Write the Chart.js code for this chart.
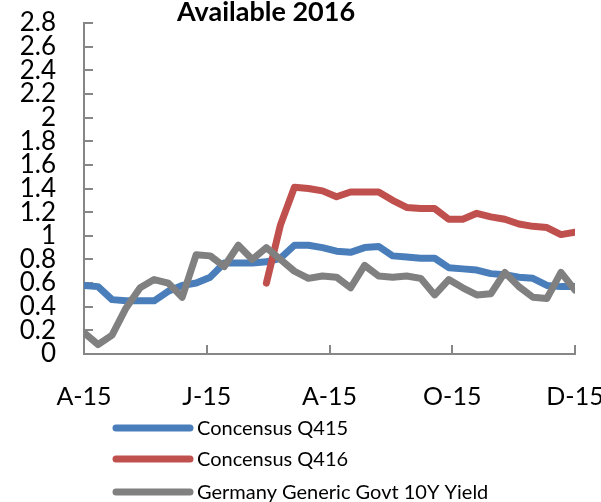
<!DOCTYPE html>
<html>
<head>
<meta charset="utf-8">
<script src="https://cdn.jsdelivr.net/npm/chart.js@4/dist/chart.umd.min.js"></script>
<style>
  body { margin: 0; background: #fff; }
</style>
</head>
<body>
<canvas id="yields" width="601" height="502"></canvas>
<script>
// weekly observations, April 2015 -> December 2015
const consensusQ415 = [0.58,0.57,0.46,0.45,0.45,0.45,0.53,0.58,0.60,0.65,0.77,0.77,0.77,0.78,0.81,0.92,0.92,0.90,
                       0.87,0.86,0.90,0.91,0.83,0.82,0.81,0.81,0.73,0.72,0.71,0.68,0.67,0.65,0.64,0.58,0.57,0.57];
const consensusQ416 = [null,null,null,null,null,null,null,null,null,null,null,null,null,0.60,1.09,1.41,1.40,1.38,
                       1.33,1.37,1.37,1.37,1.30,1.24,1.23,1.23,1.14,1.14,1.19,1.16,1.14,1.10,1.08,1.07,1.01,1.03];
const germany10y    = [0.18,0.08,0.16,0.39,0.56,0.63,0.60,0.48,0.84,0.83,0.74,0.92,0.80,0.90,0.80,0.70,0.64,0.66,
                       0.65,0.56,0.75,0.66,0.65,0.66,0.64,0.50,0.63,0.56,0.50,0.51,0.69,0.57,0.48,0.47,0.69,0.54];

const tickLabels = ["A-15", "J-15", "A-15", "O-15", "D-15"];
const tickWeeks = [0, 8.75, 17.5, 26.25, 35];   // where the month ticks fall, in weeks
const titleText = "Available 2016";

const axisGray = "#868686";

// title + stacked legend underneath the axis
const extras = {
  id: "extras",
  afterDraw(chart) {
    const ctx = chart.ctx;
    ctx.save();
    ctx.fillStyle = "#000";
    ctx.font = "bold 27px Lato";
    ctx.textAlign = "center";
    ctx.textBaseline = "alphabetic";
    ctx.fillText(titleText, 266, 21);

    const rows = [428, 459, 492];
    ctx.font = "20px Lato";
    ctx.textAlign = "left";
    ctx.textBaseline = "middle";
    chart.data.datasets.forEach((ds, i) => {
      ctx.strokeStyle = ds.borderColor;
      ctx.lineWidth = 7;
      ctx.lineCap = "round";
      ctx.beginPath();
      ctx.moveTo(116, rows[i]);
      ctx.lineTo(190, rows[i]);
      ctx.stroke();
      ctx.fillStyle = "#000";
      ctx.fillText(ds.label, 197, rows[i] + 1);
    });
    ctx.restore();
  }
};

new Chart(document.getElementById("yields"), {
  type: "line",
  data: {
    labels: germany10y.map((v, i) => i),
    datasets: [{
        data: consensusQ415,
        label: "Concensus Q415",
        borderColor: "#4a7ebb",
        order: 2
      }, {
        data: consensusQ416,
        label: "Concensus Q416",
        borderColor: "#c0504d",
        order: 1
      }, {
        data: germany10y,
        label: "Germany Generic Govt 10Y Yield",
        borderColor: "#808080",
        order: 0
      }
    ]
  },
  options: {
    responsive: false,
    animation: false,
    layout: { padding: { top: 23, right: 26, bottom: 78, left: 0 } },
    elements: {
      line: { borderWidth: 7, tension: 0, borderCapStyle: "round", borderJoinStyle: "round", fill: false },
      point: { radius: 0, hoverRadius: 0 }
    },
    plugins: {
      legend: { display: false },
      tooltip: { enabled: false }
    },
    scales: {
      x: {
        type: "linear",
        min: 0,
        max: 35,
        afterBuildTicks(scale) { scale.ticks = tickWeeks.map(v => ({ value: v })); },
        afterFit(scale) {
          scale.height = 70;
          scale.paddingLeft = 0;
          scale.paddingRight = 0;
        },
        border: { color: axisGray, width: 2 },
        grid: { drawOnChartArea: false, tickLength: -9, color: axisGray, lineWidth: 2 },
        ticks: {
          autoSkip: false,
          maxRotation: 0,
          padding: 37,
          color: "#000",
          font: { family: "Lato", size: 25 },
          callback: (v, i) => tickLabels[i]
        }
      },
      y: {
        min: 0,
        max: 2.8,
        afterFit(scale) {
          scale.width = 84;
          scale.paddingTop = 0;
          scale.paddingBottom = 0;
        },
        border: { color: axisGray, width: 2 },
        grid: { drawOnChartArea: false, tickLength: -9, color: axisGray, lineWidth: 2 },
        ticks: {
          stepSize: 0.2,
          autoSkip: false,
          padding: 37,
          color: "#000",
          font: { family: "Lato", size: 26 },
          callback: v => String(Math.round(v * 10) / 10)
        }
      }
    }
  },
  plugins: [extras]
});
</script>
</body>
</html>
